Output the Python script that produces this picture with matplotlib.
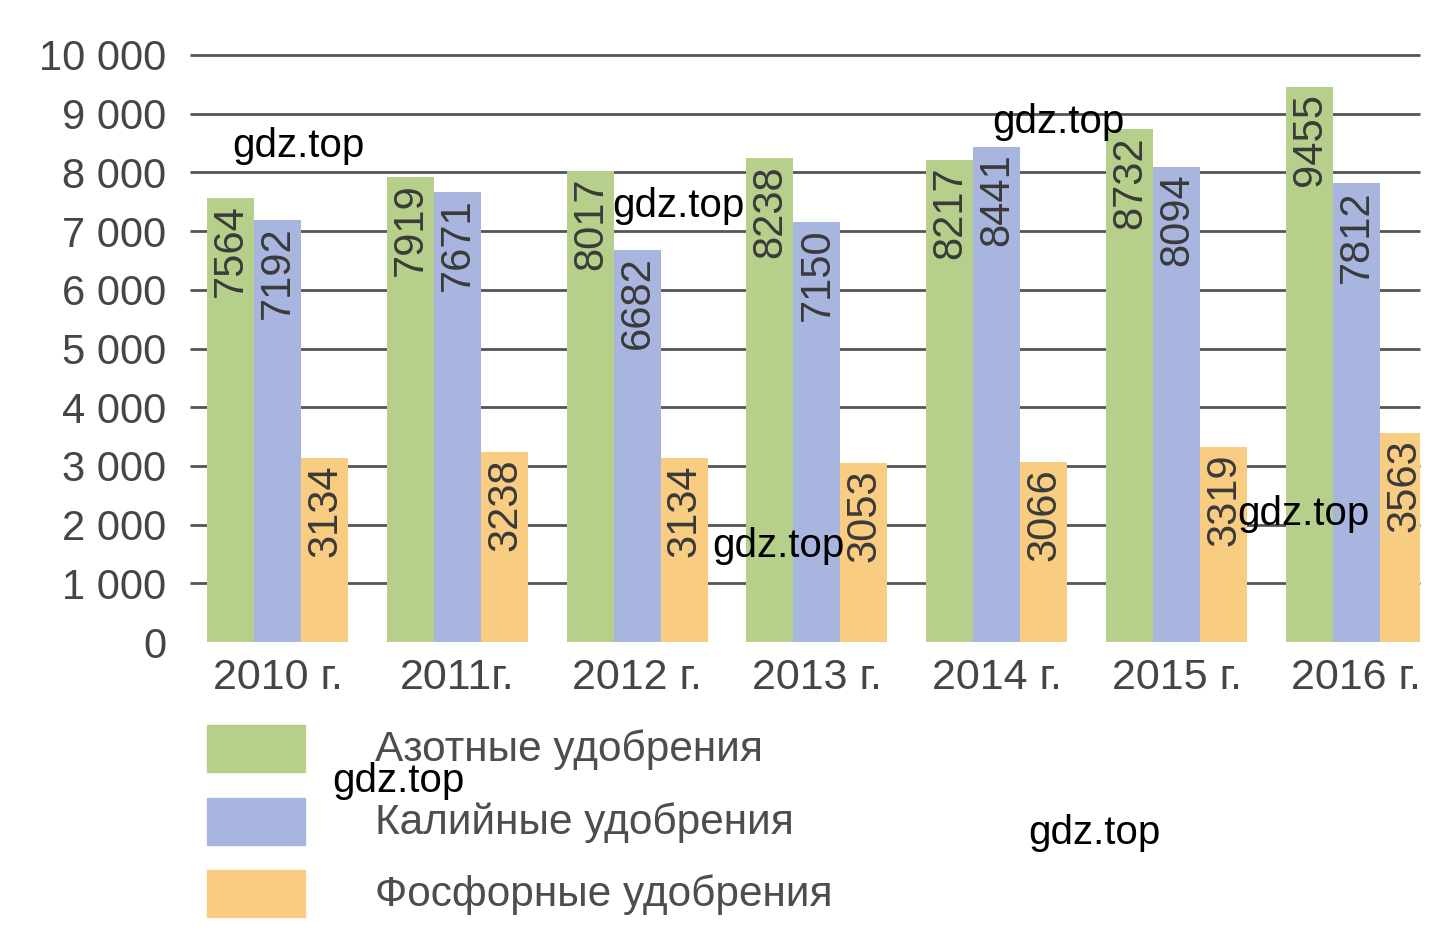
import matplotlib.pyplot as plt
import numpy as np

plt.rcParams['font.family'] = ['Liberation Sans', 'DejaVu Sans']

years = ['2010 г.', '2011г.', '2012 г.', '2013 г.', '2014 г.', '2015 г.', '2016 г.']
nitrogen = [7564, 7919, 8017, 8238, 8217, 8732, 9455]
potash = [7192, 7671, 6682, 7150, 8441, 8094, 7812]
phosphate = [3134, 3238, 3134, 3053, 3066, 3319, 3563]
series_names = ['Азотные удобрения', 'Калийные удобрения', 'Фосфорные удобрения']
grid_values = [1000, 2000, 3000, 4000, 5000, 6000, 7000, 8000, 9000, 10000]
tick_values = [0] + grid_values
tick_labels = ['0', '1 000', '2 000', '3 000', '4 000', '5 000', '6 000',
               '7 000', '8 000', '9 000', '10 000']

colors = ['#b6cf8b', '#a8b5df', '#f8cd82']
text_color = '#454545'

W, H = 1455, 941
fig = plt.figure(figsize=(W / 100, H / 100), dpi=100)
fig.patch.set_facecolor('white')

# axes placed in pixel terms: zero line at y=642, 10000 at y=55
left_px, right_px = 190, 1420
y0_px, y10k_px = 642, 55
ax = fig.add_axes([left_px / W, 1 - y0_px / H, (right_px - left_px) / W, (y0_px - y10k_px) / H])
ax.set_ylim(0, 10000)

# groups: 2010 centre at x=277.5 px, spacing ~179.5 px
spacing_px = 179.8
c0_px = 277.5
ax.set_xlim((left_px - c0_px) / spacing_px, (right_px - c0_px) / spacing_px)
bw = 47 / spacing_px

x = np.arange(len(years))
ax.hlines(grid_values, *ax.get_xlim(), colors='#555555', lw=2, zorder=1, clip_on=False)

for i, vals in enumerate([nitrogen, potash, phosphate]):
    pos = x + (i - 1) * bw
    ax.bar(pos, vals, width=bw, color=colors[i], zorder=2, linewidth=0)
    for p, v in zip(pos, vals):
        ax.text(p + 0.004, v - 110, str(v), rotation=90, ha='center', va='top',
                fontsize=30, color='#3a3a3a', zorder=3)

for xi, lab in zip(x, years):
    ax.text(xi, -280, lab, ha='center', va='top', fontsize=31, color=text_color)

ax.set_yticks(tick_values)
ax.set_yticklabels(tick_labels, fontsize=30, color=text_color)
ax.tick_params(axis='y', length=0, pad=17)
ax.set_xticks([])
for s in ax.spines.values():
    s.set_visible(False)
ax.patch.set_alpha(0)

# legend
for i, name in enumerate(series_names):
    top = [725, 798, 870][i]
    fig.patches.append(plt.Rectangle((207 / W, 1 - (top + 47) / H), 98 / W, 47 / H,
                                     transform=fig.transFigure, color=colors[i], figure=fig))
    fig.text(375 / W, 1 - (top + 25) / H, name, ha='left', va='center',
             fontsize=30.5, color='#4d4d4d')

# watermarks
marks = [(232, 146), (612, 206), (992, 122), (712, 546), (1237, 514), (332, 781), (1028, 833)]
for mx, my in marks:
    fig.text(mx / W, 1 - my / H, 'gdz.top', ha='left', va='center', fontsize=29, color='black')

fig.savefig('out.png', dpi=100)
